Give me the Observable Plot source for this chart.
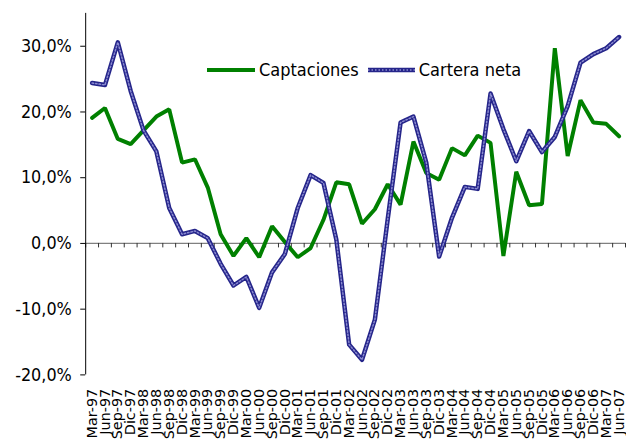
<!DOCTYPE html>
<html><head><meta charset="utf-8">
<script src="https://cdn.jsdelivr.net/npm/d3@7"></script>
<script src="https://cdn.jsdelivr.net/npm/@observablehq/plot@0.6"></script>
<style>
html,body{margin:0;padding:0;background:#fff;overflow:hidden;width:626px;height:444px}
#chart{position:relative;width:626px;height:444px;overflow:hidden}
#chart svg{display:block;font-stretch:condensed}
#chart svg .xlab{font-family:"DejaVu Sans",sans-serif;font-stretch:normal}
#legend{position:absolute;left:207px;top:59px;display:flex;align-items:center;font-family:"DejaVu Sans Condensed","DejaVu Sans",sans-serif;font-stretch:condensed;font-size:18px;color:#000;white-space:nowrap;line-height:22px}
#legend svg{display:block}
</style></head><body><div id="chart"><div id="legend"></div></div>
<script>
const periods = ["Mar-97","Jun-97","Sep-97","Dic-97","Mar-98","Jun-98","Sep-98","Dic-98","Mar-99","Jun-99","Sep-99","Dic-99","Mar-00","Jun-00","Sep-00","Dic-00","Mar-01","Jun-01","Sep-01","Dic-01","Mar-02","Jun-02","Sep-02","Dic-02","Mar-03","Jun-03","Sep-03","Dic-03","Mar-04","Jun-04","Sep-04","Dic-04","Mar-05","Jun-05","Sep-05","Dic-05","Mar-06","Jun-06","Sep-06","Dic-06","Mar-07","Jun-07"];
const captaciones = [19.1,20.6,15.9,15.1,17.2,19.3,20.4,12.3,12.8,8.5,1.4,-1.9,0.8,-2.1,2.6,0.2,-2.1,-0.7,3.6,9.3,9.0,3.0,5.2,9.0,5.9,15.5,10.7,9.7,14.5,13.4,16.4,15.3,-1.9,10.9,5.8,6.0,29.7,13.3,21.8,18.4,18.2,16.3];
const carteraNeta = [24.4,24.1,30.6,23.2,17.2,14.0,5.4,1.4,1.9,0.8,-3.1,-6.4,-5.1,-9.8,-4.4,-1.6,5.4,10.4,9.2,0.6,-15.4,-17.7,-11.6,3.7,18.4,19.3,12.3,-2.0,3.9,8.6,8.3,22.8,17.4,12.5,17.1,13.9,16.2,20.9,27.5,28.8,29.7,31.4];
const seriesNames = ["Captaciones","Cartera neta"];
const yTicks = [-0.2,-0.1,0,0.1,0.2,0.3];

const GREEN = "#008000", NAVY = "#25258a", SPECK = "#8a8ad0";
const FONT = "DejaVu Sans Condensed, DejaVu Sans, sans-serif";
const rows = periods.map((p,i)=>({i, p, cap: captaciones[i]/100, car: carteraNeta[i]/100}));
const xPos = d => d.i + 0.5;
const fmt = v => (v*100).toFixed(1).replace(".", ",") + "%";

const chart = Plot.plot({
  width: 632, height: 444,
  marginLeft: 86, marginRight: 1, marginTop: 13, marginBottom: 66,
  style: {fontFamily: FONT, fontSize: "18px", color: "#000", background: "#fff"},
  x: {type: "linear", domain: [0, periods.length], axis: null},
  y: {domain: [-0.2, 0.35], axis: null},
  marks: [
    Plot.ruleY([0], {stroke: "#808080", strokeWidth: 1.3}),
    Plot.ruleX(d3.range(periods.length + 1), {x: d => d, y1: 0, y2: 0, insetBottom: -4.5, stroke: "#333"}),
    Plot.ruleX([0], {stroke: "#000"}),
    Plot.axisY(yTicks, {tickSize: 5, tickPadding: 9, tickFormat: fmt, fontSize: 18, stroke: "#000"}),
    Plot.axisX(rows.map(xPos), {tickSize: 0, tickRotate: -90, tickPadding: 14, tickFormat: v => periods[Math.floor(v)], fontSize: 14.5, className: "xlab"}),
    Plot.line(rows, {x: xPos, y: "cap", stroke: GREEN, strokeWidth: 4, strokeLinejoin: "miter"}),
    Plot.line(rows, {x: xPos, y: "car", stroke: NAVY, strokeWidth: 4.5}),
    Plot.line(rows, {x: xPos, y: "car", stroke: SPECK, strokeWidth: 1.5, strokeDasharray: "1.5,2"})
  ]
});
document.getElementById("chart").prepend(chart);

// legend
const legend = d3.select("#legend");
function swatch(w, layers) {
  const s = legend.append("svg").attr("width", w).attr("height", 10);
  layers.forEach(l => s.append("line").attr("x1", 0).attr("x2", w).attr("y1", 5).attr("y2", 5)
    .attr("stroke", l.stroke).attr("stroke-width", l.width).attr("stroke-dasharray", l.dash || null));
}
swatch(48, [{stroke: GREEN, width: 4}]);
legend.append("span").style("margin-left", "4px").style("margin-right", "9px").text(seriesNames[0]);
swatch(47, [{stroke: NAVY, width: 4.5}, {stroke: SPECK, width: 1.5, dash: "1.5,2"}]);
legend.append("span").style("margin-left", "4px").text(seriesNames[1]);
</script></body></html>
